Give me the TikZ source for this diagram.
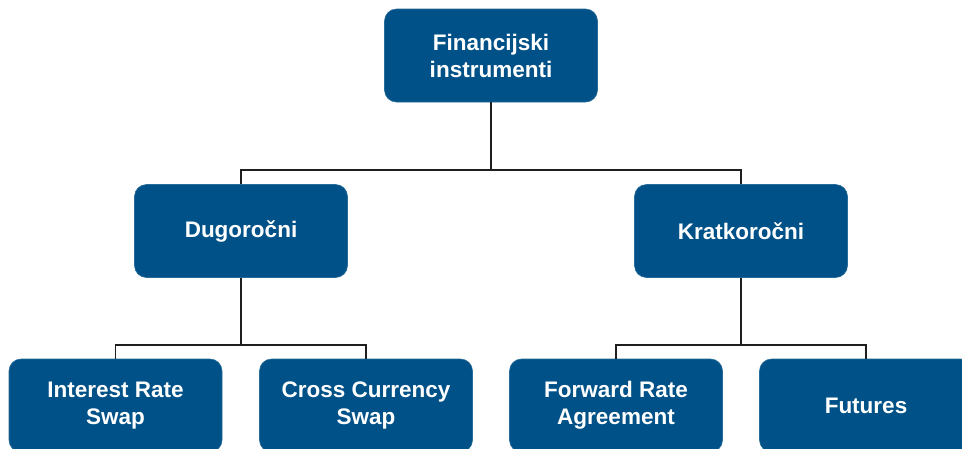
\documentclass[tikz,border=0pt]{standalone}
\usepackage{fontspec}
\setmainfont{Liberation Sans}
\definecolor{boxblue}{RGB}{0,81,135}
\definecolor{linegray}{RGB}{30,30,30}
\begin{document}
\begin{tikzpicture}[x=1pt,y=-1pt,
  box/.style={rectangle, rounded corners=12pt, fill=boxblue, draw=boxblue!85!white, line width=0.6pt, text=white,
    minimum width=213pt, minimum height=93pt, align=center, inner sep=0pt,
    font=\bfseries\fontsize{22.5}{27}\selectfont},
  conn/.style={draw=linegray, line width=1.8pt}]
\useasboundingbox (0,0) rectangle (962,448);
\clip (0,0) rectangle (962,448);
\node[box] (root) at (491,55.5) {Financijski\\instrumenti};
\node[box] (dug) at (241,231) {Dugoročni};
\node[box] (kra) at (741,231) {Kratkoročni};
\node[box] (irs) at (115.5,405.5) {Interest Rate\\Swap};
\node[box] (ccs) at (366,405.5) {Cross Currency\\Swap};
\node[box] (fra) at (616,405.5) {Forward Rate\\Agreement};
\node[box] (fut) at (866,405.5) {Futures};
\coordinate (bar1) at (0,170);
\coordinate (bar2) at (0,345);
\draw[conn] (root.south) -- (root.south |- bar1);
\draw[conn] (dug.north) -- (dug.north |- bar1) -- (kra.north |- bar1) -- (kra.north);
\draw[conn] (dug.south) -- (dug.south |- bar2);
\draw[conn] (irs.north) -- (irs.north |- bar2) -- (ccs.north |- bar2) -- (ccs.north);
\draw[conn] (kra.south) -- (kra.south |- bar2);
\draw[conn] (fra.north) -- (fra.north |- bar2) -- (fut.north |- bar2) -- (fut.north);
\end{tikzpicture}
\end{document}
